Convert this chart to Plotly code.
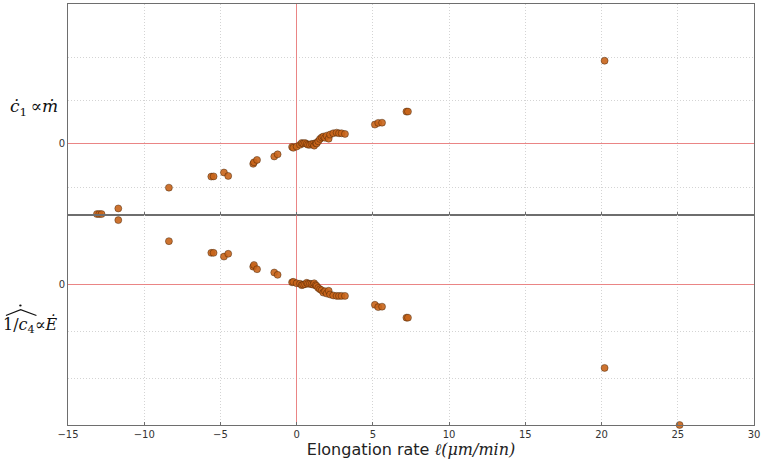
import plotly.graph_objects as go
from plotly.subplots import make_subplots

# Elongation rate (x) shared by both panels
elong_rate = [-13.1, -12.95, -12.8, -11.7, -8.38, -5.6, -5.45, -4.77, -4.49,
              -2.85, -2.8, -2.6, -1.47, -1.25,
              -0.3, -0.22, 0.0, 0.22, 0.33, 0.43, 0.55, 0.66, 0.75, 0.87, 0.98,
              1.09, 1.15, 1.25, 1.31, 1.42, 1.53, 1.64, 1.75, 1.86, 1.97, 2.1,
              2.19, 2.4, 2.62, 2.78, 2.95, 3.17,
              5.13, 5.35, 5.6, 7.2, 7.3, 20.2, 25.12]

# top panel: c1 dot (prop. to m dot), arbitrary units
c1_dot = [-1.62, -1.62, -1.62, -1.49, -1.01, -0.755, -0.75, -0.66, -0.74,
          -0.46, -0.425, -0.37, -0.29, -0.24,
          -0.07, -0.09, -0.06, -0.02, 0.02, 0.01, 0.02, 0.0, -0.02, -0.02, 0.0,
          0.0, -0.04, 0.02, 0.01, 0.06, 0.115, 0.15, 0.17, 0.14, 0.19, 0.12,
          0.215, 0.245, 0.26, 0.245, 0.245, 0.23,
          0.446, 0.485, 0.49, 0.746, 0.746, 1.92, None]

# bottom panel: hat(1/c4) dot (prop. to E dot), arbitrary units
inv_c4_dot = [1.52, 1.52, 1.52, 1.38, 0.93, 0.68, 0.68, 0.60, 0.66,
              0.385, 0.42, 0.33, 0.26, 0.21,
              0.05, 0.06, 0.03, 0.02, -0.01, 0.0, 0.01, 0.04, 0.02, 0.02, 0.01,
              0.0, 0.03, -0.01, -0.03, -0.07, -0.1, -0.12, -0.17, -0.14, -0.19, -0.13,
              -0.21, -0.23, -0.24, -0.24, -0.24, -0.24,
              -0.43, -0.48, -0.47, -0.705, -0.705, -1.78, -3.0]

x_ticks = [-15, -10, -5, 0, 5, 10, 15, 20, 25, 30]
x_ticktext = ["\u221215", "\u221210", "\u22125", "0", "5", "10", "15", "20", "25", "30"]
top_ticks = [-1, 0, 1, 2]
top_ticktext = ["", "0", "", ""]
bot_ticks = [-2, -1, 0]
bot_ticktext = ["", "", "0"]

fig = make_subplots(rows=2, cols=1, shared_xaxes=True, vertical_spacing=0.0)

marker = dict(size=7, color="rgba(200,100,25,0.9)",
              line=dict(color="rgba(50,25,0,0.7)", width=0.6))

fig.add_trace(go.Scatter(x=elong_rate, y=c1_dot, mode="markers", marker=marker,
                         cliponaxis=False, showlegend=False), row=1, col=1)
fig.add_trace(go.Scatter(x=elong_rate, y=inv_c4_dot, mode="markers", marker=marker,
                         cliponaxis=False, showlegend=False), row=2, col=1)

axis_line = "#6e6e6e"
grid_col = "#d4d4d4"
red = "rgba(232,120,120,0.9)"

fig.update_xaxes(range=[-15, 30], tickvals=x_ticks, showgrid=True,
                 gridcolor=grid_col, griddash="1px,2px", gridwidth=1,
                 zeroline=True, zerolinecolor=red, zerolinewidth=1,
                 showline=True, linecolor=axis_line, linewidth=1,
                 mirror=True, ticks="inside", ticklen=3, tickcolor=axis_line,
                 automargin=False)
fig.update_xaxes(showticklabels=False, row=1, col=1)
fig.update_xaxes(ticktext=x_ticktext,
                 tickfont=dict(family="DejaVu Sans", size=10, color="#333333"),
                 title=dict(text="Elongation rate <span style='font-family:DejaVu Serif'><i>\u2113\u0307(\u03bcm/min)</i></span>",
                            font=dict(family="DejaVu Sans", size=16, color="#222222"),
                            standoff=0),
                 row=2, col=1)

fig.update_yaxes(showgrid=True, gridcolor=grid_col, griddash="1px,2px", gridwidth=1,
                 zeroline=True, zerolinecolor=red, zerolinewidth=1,
                 showline=True, linecolor=axis_line, linewidth=1,
                 mirror=True, ticks="", automargin=False,
                 tickfont=dict(family="DejaVu Sans", size=10, color="#333333"))
fig.update_yaxes(range=[-1.63, 3.23], tickvals=top_ticks, ticktext=top_ticktext, row=1, col=1)
fig.update_yaxes(range=[-3.0, 1.5], tickvals=bot_ticks, ticktext=bot_ticktext, row=2, col=1)

serif = "DejaVu Serif"
fig.add_annotation(xref="paper", yref="paper", x=-0.012, y=0.753, xanchor="right", yanchor="middle",
                   text="<i>c\u0307</i><sub>1</sub>\u2009\u221d<i>m\u0307</i>", showarrow=False,
                   font=dict(family=serif, size=17, color="#111111"))
fig.add_annotation(xref="paper", yref="paper", x=-0.012, y=0.237, xanchor="right", yanchor="middle",
                   text="1/<i>c</i><sub>4</sub>\u221d<i>E\u0307</i>", showarrow=False,
                   font=dict(family=serif, size=16, color="#111111"))
# hat with dot above 1/c4
fig.add_shape(type="path", xref="paper", yref="paper",
              path="M -0.0905,0.2600 L -0.0690,0.2740 L -0.0460,0.2600",
              line=dict(color="#111111", width=1.2))
fig.add_shape(type="circle", xref="paper", yref="paper",
              x0=-0.0712, x1=-0.0676, y0=0.2815, y1=0.2862,
              fillcolor="#111111", line=dict(width=0))

fig.update_layout(width=764, height=462, margin=dict(l=68, r=10, t=4, b=37),
                  plot_bgcolor="white", paper_bgcolor="white")

fig.write_html("out.html", config={"displayModeBar": False},
               post_script="document.body.style.margin='0px';")
